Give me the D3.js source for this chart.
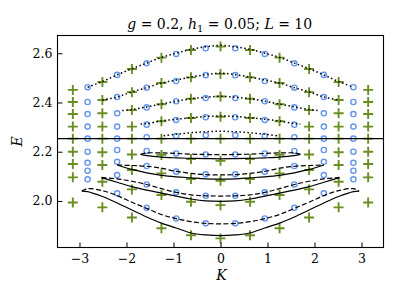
<!DOCTYPE html>
<html>
<head>
<meta charset="utf-8">
<script src="https://cdn.jsdelivr.net/npm/d3@7"></script>
<style>
  body { margin: 0; background: #fff; }
  svg { display: block; }
  text { font-family: "DejaVu Serif", serif; fill: #000; }
</style>
</head>
<body>
<div id="chart"></div>
<script>
// momentum sectors (L = 10): integer -> plus markers, half-integer -> circles
const plusK = [-3.1416, -2.5133, -1.885, -1.2566, -0.6283, 0, 0.6283, 1.2566, 1.885, 2.5133, 3.1416];
const circK = [-2.8274, -2.1991, -1.5708, -0.9425, -0.3142, 0.3142, 0.9425, 1.5708, 2.1991, 2.8274];

// energy levels read per sector (one array per level, top to bottom)
const plusE = [
  [2.451, 2.483, 2.536, 2.582, 2.613, 2.627, 2.613, 2.582, 2.536, 2.483, 2.451],
  [2.402, 2.410, 2.442, 2.479, 2.502, 2.516, 2.502, 2.479, 2.442, 2.410, 2.402],
  [2.353, 2.356, 2.369, 2.393, 2.415, 2.424, 2.415, 2.393, 2.369, 2.356, 2.353],
  [2.302, 2.302, 2.302, 2.324, 2.337, 2.342, 2.337, 2.324, 2.302, 2.302, 2.302],
  [2.253, 2.253, 2.253, 2.253, 2.253, 2.253, 2.253, 2.253, 2.253, 2.253, 2.253],
  [2.200, 2.198, 2.189, 2.187, 2.170, 2.163, 2.170, 2.187, 2.189, 2.198, 2.200],
  [2.150, 2.146, 2.126, 2.112, 2.089, 2.082, 2.089, 2.112, 2.126, 2.146, 2.150],
  [2.096, 2.078, 2.047, 2.024, 1.997, 1.983, 1.997, 2.024, 2.047, 2.078, 2.096],
  [1.994, 1.974, 1.933, 1.889, 1.861, 1.848, 1.861, 1.889, 1.933, 1.974, 1.994]
];
const circE = [
  [2.462, 2.512, 2.559, 2.597, 2.620, 2.620, 2.597, 2.559, 2.512, 2.462],
  [2.402, 2.422, 2.460, 2.487, 2.511, 2.511, 2.487, 2.460, 2.422, 2.402],
  [2.353, 2.356, 2.380, 2.405, 2.418, 2.418, 2.405, 2.380, 2.356, 2.353],
  [2.302, 2.302, 2.310, 2.329, 2.340, 2.340, 2.329, 2.310, 2.302, 2.302],
  [2.253, 2.253, 2.259, 2.264, 2.267, 2.267, 2.264, 2.259, 2.253, 2.253],
  [2.200, 2.207, 2.203, 2.193, 2.189, 2.189, 2.193, 2.203, 2.207, 2.200],
  [2.155, 2.159, 2.142, 2.119, 2.108, 2.108, 2.119, 2.142, 2.159, 2.155],
  [2.123, 2.105, 2.067, 2.035, 2.021, 2.021, 2.035, 2.067, 2.105, 2.123],
  [2.088, 2.031, 1.972, 1.929, 1.909, 1.909, 1.929, 1.972, 2.031, 2.088]
];

// threshold line
const threshold = 2.253;

// dotted curves above the threshold
const dotted = [
  [[-2.827, 2.462], [-2.513, 2.485], [-2.199, 2.512], [-1.885, 2.537], [-1.571, 2.560], [-1.257, 2.583], [-0.942, 2.600], [-0.628, 2.616], [-0.314, 2.626], [0, 2.632],
   [0.314, 2.626], [0.628, 2.616], [0.942, 2.600], [1.257, 2.583], [1.571, 2.560], [1.885, 2.537], [2.199, 2.512], [2.513, 2.485], [2.827, 2.462]],
  [[-2.513, 2.410], [-2.199, 2.422], [-1.885, 2.443], [-1.571, 2.460], [-1.257, 2.479], [-0.942, 2.491], [-0.628, 2.503], [-0.314, 2.513], [0, 2.519],
   [0.314, 2.513], [0.628, 2.503], [0.942, 2.491], [1.257, 2.479], [1.571, 2.460], [1.885, 2.443], [2.199, 2.422], [2.513, 2.410]],
  [[-2.09, 2.367], [-1.885, 2.371], [-1.571, 2.382], [-1.257, 2.394], [-0.942, 2.405], [-0.628, 2.415], [-0.314, 2.421], [0, 2.425],
   [0.314, 2.421], [0.628, 2.415], [0.942, 2.405], [1.257, 2.394], [1.571, 2.382], [1.885, 2.371], [2.09, 2.367]],
  [[-1.70, 2.313], [-1.571, 2.314], [-1.257, 2.325], [-0.942, 2.332], [-0.628, 2.338], [-0.314, 2.343], [0, 2.345],
   [0.314, 2.343], [0.628, 2.338], [0.942, 2.332], [1.257, 2.325], [1.571, 2.314], [1.70, 2.313]],
  [[-1.21, 2.265], [-0.942, 2.271], [-0.628, 2.277], [-0.314, 2.281], [0, 2.283],
   [0.314, 2.281], [0.628, 2.277], [0.942, 2.271], [1.21, 2.265]]
];

// bound-state branches below the threshold
const solid = [
  [[-1.70, 2.189], [-1.571, 2.184], [-1.257, 2.178], [-0.942, 2.175], [-0.628, 2.173], [-0.314, 2.172], [0, 2.171],
   [0.314, 2.172], [0.628, 2.173], [0.942, 2.175], [1.257, 2.178], [1.571, 2.184], [1.70, 2.189]],
  [[-2.20, 2.146], [-1.885, 2.128], [-1.571, 2.114], [-1.257, 2.104], [-0.942, 2.098], [-0.628, 2.094], [-0.314, 2.090], [0, 2.089],
   [0.314, 2.090], [0.628, 2.094], [0.942, 2.098], [1.257, 2.104], [1.571, 2.114], [1.885, 2.128], [2.20, 2.146]],
  [[-2.53, 2.095], [-2.199, 2.076], [-1.885, 2.058], [-1.571, 2.044], [-1.257, 2.032], [-0.942, 2.020], [-0.628, 2.008], [-0.314, 2.000], [0, 1.998],
   [0.314, 2.000], [0.628, 2.008], [0.942, 2.020], [1.257, 2.032], [1.571, 2.044], [1.885, 2.058], [2.199, 2.076], [2.53, 2.095]],
  [[-2.95, 2.040], [-2.827, 2.038], [-2.513, 2.018], [-2.199, 1.992], [-1.885, 1.963], [-1.571, 1.935], [-1.257, 1.910], [-0.942, 1.890], [-0.628, 1.870], [-0.314, 1.862], [0, 1.859],
   [0.314, 1.862], [0.628, 1.870], [0.942, 1.890], [1.257, 1.910], [1.571, 1.935], [1.885, 1.963], [2.199, 1.992], [2.513, 2.018], [2.827, 2.038], [2.95, 2.040]]
];
const dashed = [
  [[-1.70, 2.189], [-1.571, 2.195], [-1.257, 2.195], [-0.942, 2.193], [-0.628, 2.190], [-0.314, 2.189], [0, 2.188],
   [0.314, 2.189], [0.628, 2.190], [0.942, 2.193], [1.257, 2.195], [1.571, 2.195], [1.70, 2.189]],
  [[-2.20, 2.146], [-1.885, 2.144], [-1.571, 2.141], [-1.257, 2.133], [-0.942, 2.120], [-0.628, 2.112], [-0.314, 2.107], [0, 2.106],
   [0.314, 2.107], [0.628, 2.112], [0.942, 2.120], [1.257, 2.133], [1.571, 2.141], [1.885, 2.144], [2.20, 2.146]],
  [[-2.53, 2.095], [-2.199, 2.090], [-1.885, 2.080], [-1.571, 2.067], [-1.257, 2.050], [-0.942, 2.035], [-0.628, 2.025], [-0.314, 2.021], [0, 2.020],
   [0.314, 2.021], [0.628, 2.025], [0.942, 2.035], [1.257, 2.050], [1.571, 2.067], [1.885, 2.080], [2.199, 2.090], [2.53, 2.095]],
  [[-2.95, 2.040], [-2.827, 2.050], [-2.513, 2.042], [-2.199, 2.022], [-1.885, 1.995], [-1.571, 1.970], [-1.257, 1.945], [-0.942, 1.928], [-0.628, 1.916], [-0.314, 1.909], [0, 1.907],
   [0.314, 1.909], [0.628, 1.916], [0.942, 1.928], [1.257, 1.945], [1.571, 1.970], [1.885, 1.995], [2.199, 2.022], [2.513, 2.042], [2.827, 2.050], [2.95, 2.040]]
];

const xTicks = [-3, -2, -1, 0, 1, 2, 3];
const yTicks = [2.0, 2.2, 2.4, 2.6];

const W = 399, H = 300;
const mLeft = 57.5, mRight = 383.5, mTop = 35.5, mBottom = 247.5;

const svg = d3.select("#chart").append("svg")
  .attr("width", W)
  .attr("height", H);

const x = d3.scaleLinear().domain([-3.468, 3.468]).range([mLeft, mRight]);
const y = d3.scaleLinear().domain([1.811, 2.672]).range([mBottom, mTop]);

// markers first, lines on top
const plusPts = plusE.flatMap(row => row.map((e, i) => [plusK[i], e]));
const circPts = circE.flatMap(row => row.map((e, i) => [circK[i], e]));

svg.append("g").selectAll("path")
  .data(plusPts)
  .enter().append("path")
  .attr("d", d => `M${x(d[0]) - 5},${y(d[1])}h10M${x(d[0])},${y(d[1]) - 5}v10`)
  .attr("stroke", "#6b8e23")
  .attr("stroke-width", 1.9)
  .attr("fill", "none");

svg.append("g").selectAll("circle")
  .data(circPts)
  .enter().append("circle")
  .attr("cx", d => x(d[0]))
  .attr("cy", d => y(d[1]))
  .attr("r", 2.6)
  .attr("fill", "none")
  .attr("stroke", "#6495ed")
  .attr("stroke-width", 1.4);

const line = d3.line()
  .x(d => x(d[0]))
  .y(d => y(d[1]))
  .curve(d3.curveCatmullRom);

svg.append("line")
  .attr("x1", mLeft).attr("x2", mRight)
  .attr("y1", y(threshold)).attr("y2", y(threshold))
  .attr("stroke", "#000")
  .attr("stroke-width", 1.1);

svg.append("g").selectAll("path")
  .data(dotted)
  .enter().append("path")
  .attr("d", line)
  .attr("fill", "none")
  .attr("stroke", "#000")
  .attr("stroke-width", 1.5)
  .attr("stroke-dasharray", "1.5,2.5");

svg.append("g").selectAll("path")
  .data(solid)
  .enter().append("path")
  .attr("d", line)
  .attr("fill", "none")
  .attr("stroke", "#000")
  .attr("stroke-width", 1.2);

svg.append("g").selectAll("path")
  .data(dashed)
  .enter().append("path")
  .attr("d", line)
  .attr("fill", "none")
  .attr("stroke", "#000")
  .attr("stroke-width", 1.2)
  .attr("stroke-dasharray", "5,2.4");

// axes with inward ticks
svg.append("g")
  .attr("transform", `translate(0,${mBottom})`)
  .call(d3.axisBottom(x).tickValues(xTicks).tickSizeInner(-5).tickSizeOuter(0).tickPadding(6.5)
    .tickFormat(d => d < 0 ? "\u2212" + Math.abs(d) : d));
svg.append("g")
  .attr("transform", `translate(${mLeft},0)`)
  .call(d3.axisLeft(y).tickValues(yTicks).tickSizeInner(-5).tickSizeOuter(0).tickPadding(5)
    .tickFormat(d3.format(".1f")));

svg.selectAll(".domain").remove();
svg.selectAll(".tick line").attr("stroke", "#000").attr("stroke-width", 1);
svg.selectAll(".tick text")
  .style("font-family", "'DejaVu Serif', serif")
  .style("font-size", "12.5px")
  .attr("fill", "#000");

// frame
svg.append("rect")
  .attr("x", mLeft).attr("y", mTop)
  .attr("width", mRight - mLeft).attr("height", mBottom - mTop)
  .attr("fill", "none")
  .attr("stroke", "#000")
  .attr("stroke-width", 1.1);

// labels
svg.append("text")
  .attr("x", 221.5)
  .attr("y", 280)
  .attr("text-anchor", "middle")
  .style("font-size", "14px")
  .style("font-style", "italic")
  .text("K");

svg.append("text")
  .attr("transform", `translate(21.5,${(mTop + mBottom) / 2}) rotate(-90)`)
  .attr("text-anchor", "middle")
  .style("font-size", "14px")
  .style("font-style", "italic")
  .text("E");

const title = svg.append("text")
  .attr("x", 219.7)
  .attr("y", 29)
  .attr("text-anchor", "middle")
  .style("font-size", "14px")
  .style("white-space", "pre");
title.append("tspan").style("font-style", "italic").text("g");
title.append("tspan").text(" = 0.2, ");
title.append("tspan").style("font-style", "italic").text("h");
title.append("tspan").attr("dy", 3).style("font-size", "10px").text("1");
title.append("tspan").attr("dy", -3).text(" = 0.05; ");
title.append("tspan").style("font-style", "italic").text("L");
title.append("tspan").text(" = 10");
</script>
</body>
</html>
